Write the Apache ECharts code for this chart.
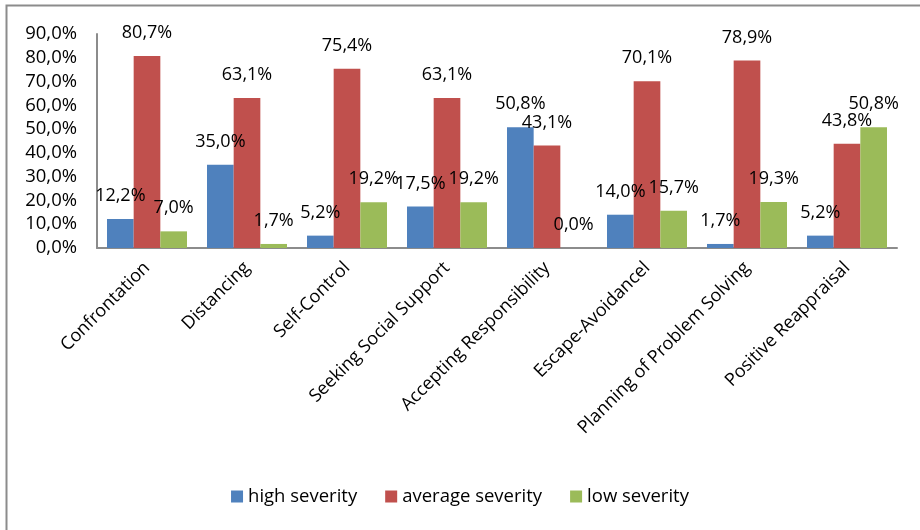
<!DOCTYPE html>
<html lang="en">
<head>
    <meta charset="UTF-8">
    <title>Coping strategies by severity</title>
    <script src="https://cdn.jsdelivr.net/npm/echarts@6/dist/echarts.min.js"></script>
    <style>
        html, body { margin: 0; padding: 0; background: #fff; }
        #chart { width: 920px; height: 530px; }
    </style>
</head>
<body>
    <div id="chart"></div>
    <script>
        const categories = ['Confrontation', 'Distancing', 'Self-Control', 'Seeking Social Support',
            'Accepting Responsibility', 'Escape-Avoidancel', 'Planning of Problem Solving', 'Positive Reappraisal'];
        const highSeverity = [12.2, 35.0, 5.2, 17.5, 50.8, 14.0, 1.7, 5.2];
        const averageSeverity = [80.7, 63.1, 75.4, 63.1, 43.1, 70.1, 78.9, 43.8];
        const lowSeverity = [7.0, 1.7, 19.2, 19.2, 0.0, 15.7, 19.3, 50.8];

        const font = '"Open Sans", sans-serif';
        const pct = v => v.toFixed(1).replace('.', ',') + '%';

        function makeSeries(name, color, data) {
            return {
                name: name,
                type: 'bar',
                data: data,
                barGap: 0,
                barCategoryGap: '20%',
                itemStyle: { color: color },
                label: {
                    show: true,
                    position: 'top',
                    distance: 14,
                    color: '#000',
                    fontFamily: font,
                    fontSize: 18,
                    formatter: p => pct(p.value)
                }
            };
        }

        const chart = echarts.init(document.getElementById('chart'));
        chart.setOption({
            animation: false,
            textStyle: { fontFamily: font },
            graphic: [{
                type: 'rect',
                shape: { x: 6.5, y: 5.5, width: 930, height: 540 },
                style: { fill: 'none', stroke: '#8c8c8c', lineWidth: 2 }
            }],
            legend: {
                bottom: 19,
                left: 'center',
                itemWidth: 12,
                itemHeight: 12,
                itemGap: 28,
                icon: 'rect',
                textStyle: { fontFamily: font, fontSize: 18.5, color: '#000' },
                data: ['high severity', 'average severity', 'low severity']
            },
            grid: { left: 97, top: 34, right: 23, bottom: 282 },
            xAxis: {
                type: 'category',
                data: categories,
                axisLine: { lineStyle: { color: '#8c8c8c', width: 2 } },
                axisTick: { show: false },
                axisLabel: {
                    interval: 0,
                    rotate: 45,
                    margin: 17,
                    color: '#000',
                    fontFamily: font,
                    fontSize: 18
                }
            },
            yAxis: {
                type: 'value',
                min: 0,
                max: 90,
                interval: 10,
                splitLine: { show: false },
                axisLine: { show: true, lineStyle: { color: '#8c8c8c', width: 2 } },
                axisTick: { show: false },
                axisLabel: {
                    margin: 20,
                    color: '#000',
                    fontFamily: font,
                    fontSize: 18.5,
                    formatter: v => pct(v)
                }
            },
            series: [
                makeSeries('high severity', '#4f81bd', highSeverity),
                makeSeries('average severity', '#c0504d', averageSeverity),
                makeSeries('low severity', '#9bbb59', lowSeverity)
            ]
        });
    </script>
</body>
</html>
